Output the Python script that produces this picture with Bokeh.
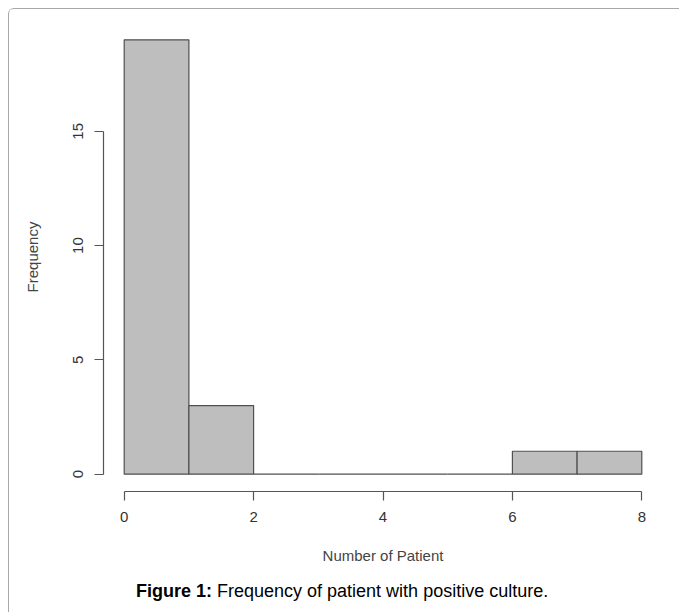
from bokeh.plotting import figure
from bokeh.models import FixedTicker, Div, ColumnDataSource
from bokeh.layouts import column
from bokeh.embed import file_html
from bokeh.resources import INLINE

# Data
bin_left = [0, 1, 2, 3, 4, 5, 6, 7]
bin_right = [1, 2, 3, 4, 5, 6, 7, 8]
counts = [19, 3, 0, 0, 0, 0, 1, 1]
x_ticks = [0, 2, 4, 6, 8]
y_ticks = [0, 5, 10, 15]

src = ColumnDataSource(dict(left=bin_left, right=bin_right, top=counts,
                            bottom=[0] * len(counts)))

p = figure(frame_width=559, frame_height=469,
           x_range=(-0.32, 8.32), y_range=(-0.76, 19.76),
           min_border_left=94, min_border_top=13, min_border_right=17,
           min_border_bottom=85,
           output_backend="svg", toolbar_location=None)

p.quad(left="left", right="right", top="top", bottom="bottom", source=src,
       fill_color="#bebebe", line_color="#505050", line_width=1.2)

p.xgrid.visible = False
p.ygrid.visible = False
p.outline_line_color = None
p.background_fill_color = "white"
p.border_fill_color = "white"

FONT = "Liberation Sans"
for ax in (p.xaxis[0], p.yaxis[0]):
    ax.axis_line_color = "#555555"
    ax.axis_line_width = 1.2
    ax.major_tick_line_color = "#555555"
    ax.major_tick_line_width = 1.2
    ax.major_tick_out = 9
    ax.major_tick_in = 0
    ax.minor_tick_line_color = None
    ax.major_label_text_font = FONT
    ax.major_label_text_font_size = "15px"
    ax.major_label_text_color = "#333333"
    ax.axis_label_text_font = FONT
    ax.axis_label_text_font_size = "15px"
    ax.axis_label_text_font_style = "normal"
    ax.axis_label_text_color = "#444444"

p.xaxis.ticker = FixedTicker(ticks=x_ticks)
p.yaxis.ticker = FixedTicker(ticks=y_ticks)
p.xaxis.bounds = (0, 8)
p.yaxis.bounds = (0, 15)
p.xaxis.axis_label = "Number of Patient"
p.yaxis.axis_label = "Frequency"
p.xaxis.major_label_standoff = 11
p.xaxis.axis_label_standoff = 22
p.yaxis.major_label_orientation = "vertical"
p.yaxis.major_label_standoff = 11
p.yaxis.axis_label_standoff = 30

caption = Div(text="<b>Figure 1:</b> Frequency of patient with positive culture.",
              styles={"font-family": FONT, "font-size": "18px", "color": "black",
                      "line-height": "21px", "white-space": "nowrap"},
              margin=(5, 0, 10, 127))

layout = column(p, caption, margin=(8, 0, 0, 8),
                styles={"border-top": "1px solid #a8a8a8",
                        "border-left": "1px solid #a8a8a8",
                        "border-top-left-radius": "6px",
                        "background-color": "white"})

open("out.html", "w").write(file_html(layout, INLINE))
